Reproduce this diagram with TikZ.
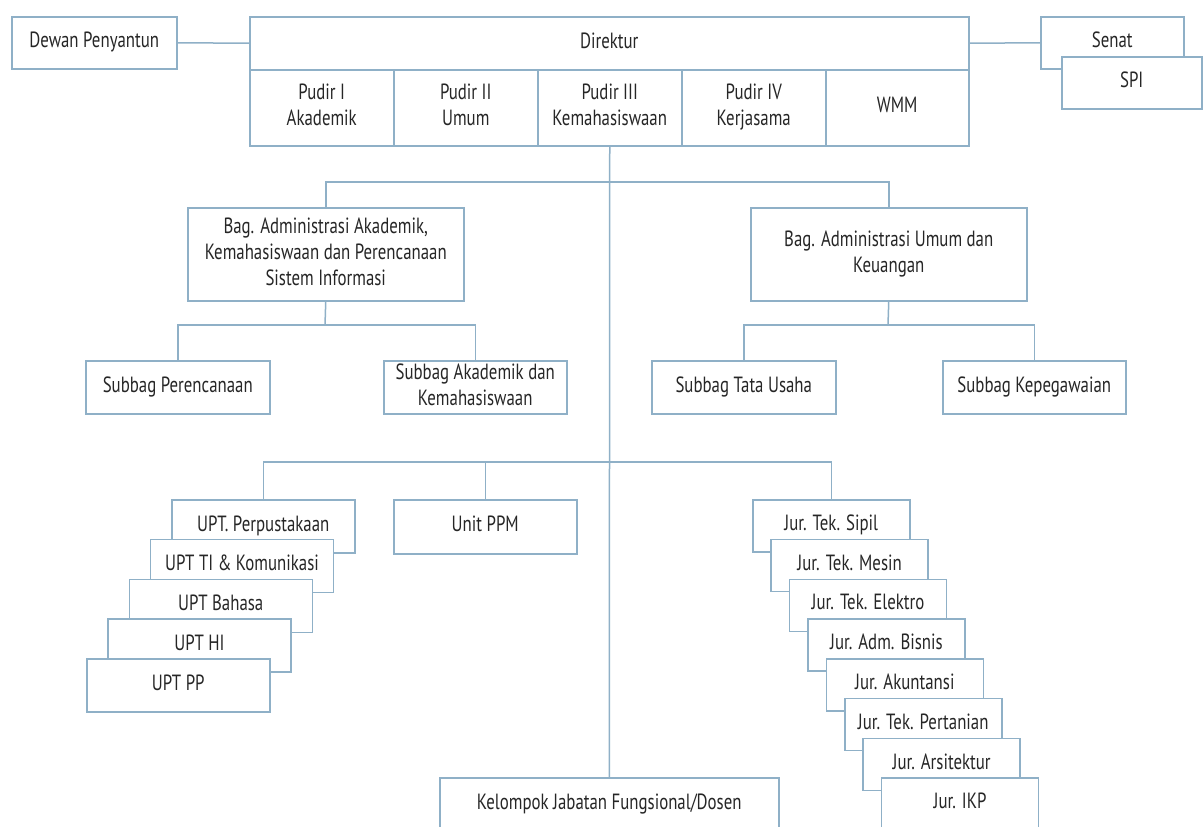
\documentclass[tikz,border=0pt]{standalone}
\usepackage{fontspec}
\setmainfont{PT Sans}[FakeStretch=0.765]
\definecolor{edge}{HTML}{8FB0C7}
\definecolor{ink}{HTML}{262626}
\newcommand{\bxstrut}{\rule[-6pt]{0pt}{21pt}}
\begin{document}
\begin{tikzpicture}[x=1pt,y=-1pt,
  box/.style={draw=edge, line width=1.5pt, fill=white, inner sep=0pt, align=center,
    anchor=north west, text=ink, font=\fontsize{22}{26}\selectfont,
    execute at begin node=\bxstrut, execute at end node=\bxstrut},
  link/.style={draw=edge, line width=1.5pt}]
\useasboundingbox (0,0) rectangle (1203,827);
\fill[white] (0,0) rectangle (1203,827);

% top row
\node[box, minimum width=165pt, minimum height=52pt] (dewan) at (11,16) {Dewan Penyantun};
\node[box, minimum width=719pt, minimum height=53pt] (dir) at (249,16) {Direktur};
\node[box, minimum width=144pt, minimum height=76pt] (p1) at (249,69) {Pudir I\\Akademik};
\node[box, minimum width=144pt, minimum height=76pt] (p2) at (393,69) {Pudir II\\Umum};
\node[box, minimum width=144pt, minimum height=76pt] (p3) at (537,69) {Pudir III\\Kemahasiswaan};
\node[box, minimum width=144pt, minimum height=76pt] (p4) at (681,69) {Pudir IV\\Kerjasama};
\node[box, minimum width=143pt, minimum height=76pt] (p5) at (825,69) {WMM};
\node[box, minimum width=143pt, minimum height=52pt] (senat) at (1040,16) {Senat};
\node[box, minimum width=140pt, minimum height=52pt] (spi) at (1061,56) {SPI};

% bagian
\node[box, minimum width=276pt, minimum height=93pt] (bagA) at (187,207)
  {Bag. Administrasi Akademik,\\Kemahasiswaan dan Perencanaan\\Sistem Informasi};
\node[box, minimum width=276pt, minimum height=93pt] (bagU) at (750,207)
  {Bag. Administrasi Umum dan\\Keuangan};

% subbag
\node[box, minimum width=184pt, minimum height=53pt] (subP) at (85,360) {Subbag Perencanaan};
\node[box, minimum width=183pt, minimum height=53pt] (subK) at (383,360) {Subbag Akademik dan\\Kemahasiswaan};
\node[box, minimum width=184pt, minimum height=53pt] (subT) at (651,360) {Subbag Tata Usaha};
\node[box, minimum width=183pt, minimum height=53pt] (subG) at (942,360) {Subbag Kepegawaian};

% UPT stack
\node[box, minimum width=183pt, minimum height=53pt] (upt1) at (171,499) {UPT. Perpustakaan};
\node[box, minimum width=183pt, minimum height=53pt] (upt2) at (149.75,538.75) {UPT TI \& Komunikasi};
\node[box, minimum width=183pt, minimum height=53pt] (upt3) at (128.5,578.5) {UPT Bahasa};
\node[box, minimum width=183pt, minimum height=53pt] (upt4) at (107.25,618.25) {UPT HI};
\node[box, minimum width=183pt, minimum height=53pt] (upt5) at (86,658) {UPT PP};

\node[box, minimum width=183pt, minimum height=54pt] (ppm) at (393,499) {Unit PPM};

% Jurusan stack
\node[box, minimum width=157pt, minimum height=52pt] (jur1) at (752,499) {Jur. Tek. Sipil};
\node[box, minimum width=157pt, minimum height=52pt] (jur2) at (770.4,538.75) {Jur. Tek. Mesin};
\node[box, minimum width=157pt, minimum height=52pt] (jur3) at (788.8,578.5) {Jur. Tek. Elektro};
\node[box, minimum width=157pt, minimum height=52pt] (jur4) at (807.2,618.25) {Jur. Adm. Bisnis};
\node[box, minimum width=157pt, minimum height=52pt] (jur5) at (825.6,658) {Jur. Akuntansi};
\node[box, minimum width=157pt, minimum height=52pt] (jur6) at (844,697.75) {Jur. Tek. Pertanian};
\node[box, minimum width=157pt, minimum height=52pt] (jur7) at (862.4,737.5) {Jur. Arsitektur};
\node[box, minimum width=157pt, minimum height=52pt] (jur8) at (880.8,777) {Jur. IKP};

\node[box, minimum width=339pt, minimum height=54pt] (kel) at (439,777) {Kelompok Jabatan Fungsional/Dosen};

% junctions
\coordinate (j1) at (609,182);
\coordinate (j2) at (609,462);
\coordinate (sA) at (325,325);
\coordinate (sU) at (888,325);

% connectors
\draw[link] (dewan.east) -- (dir.west);
\draw[link] (dir.east) -- (senat.west);
\draw[link] (p3.south) -- (kel.north);
\draw[link] (bagA.north) |- (j1) -| (bagU.north);
\draw[link] (bagA.south) -- (sA);
\draw[link] (subP.north) |- (sA) -| (subK.north);
\draw[link] (bagU.south) -- (sU);
\draw[link] (subT.north) |- (sU) -| (subG.north);
\draw[link] (upt1.north) |- (j2) -| (jur1.north);
\draw[link] (ppm.north) -- (ppm.north |- j2);
\end{tikzpicture}
\end{document}
